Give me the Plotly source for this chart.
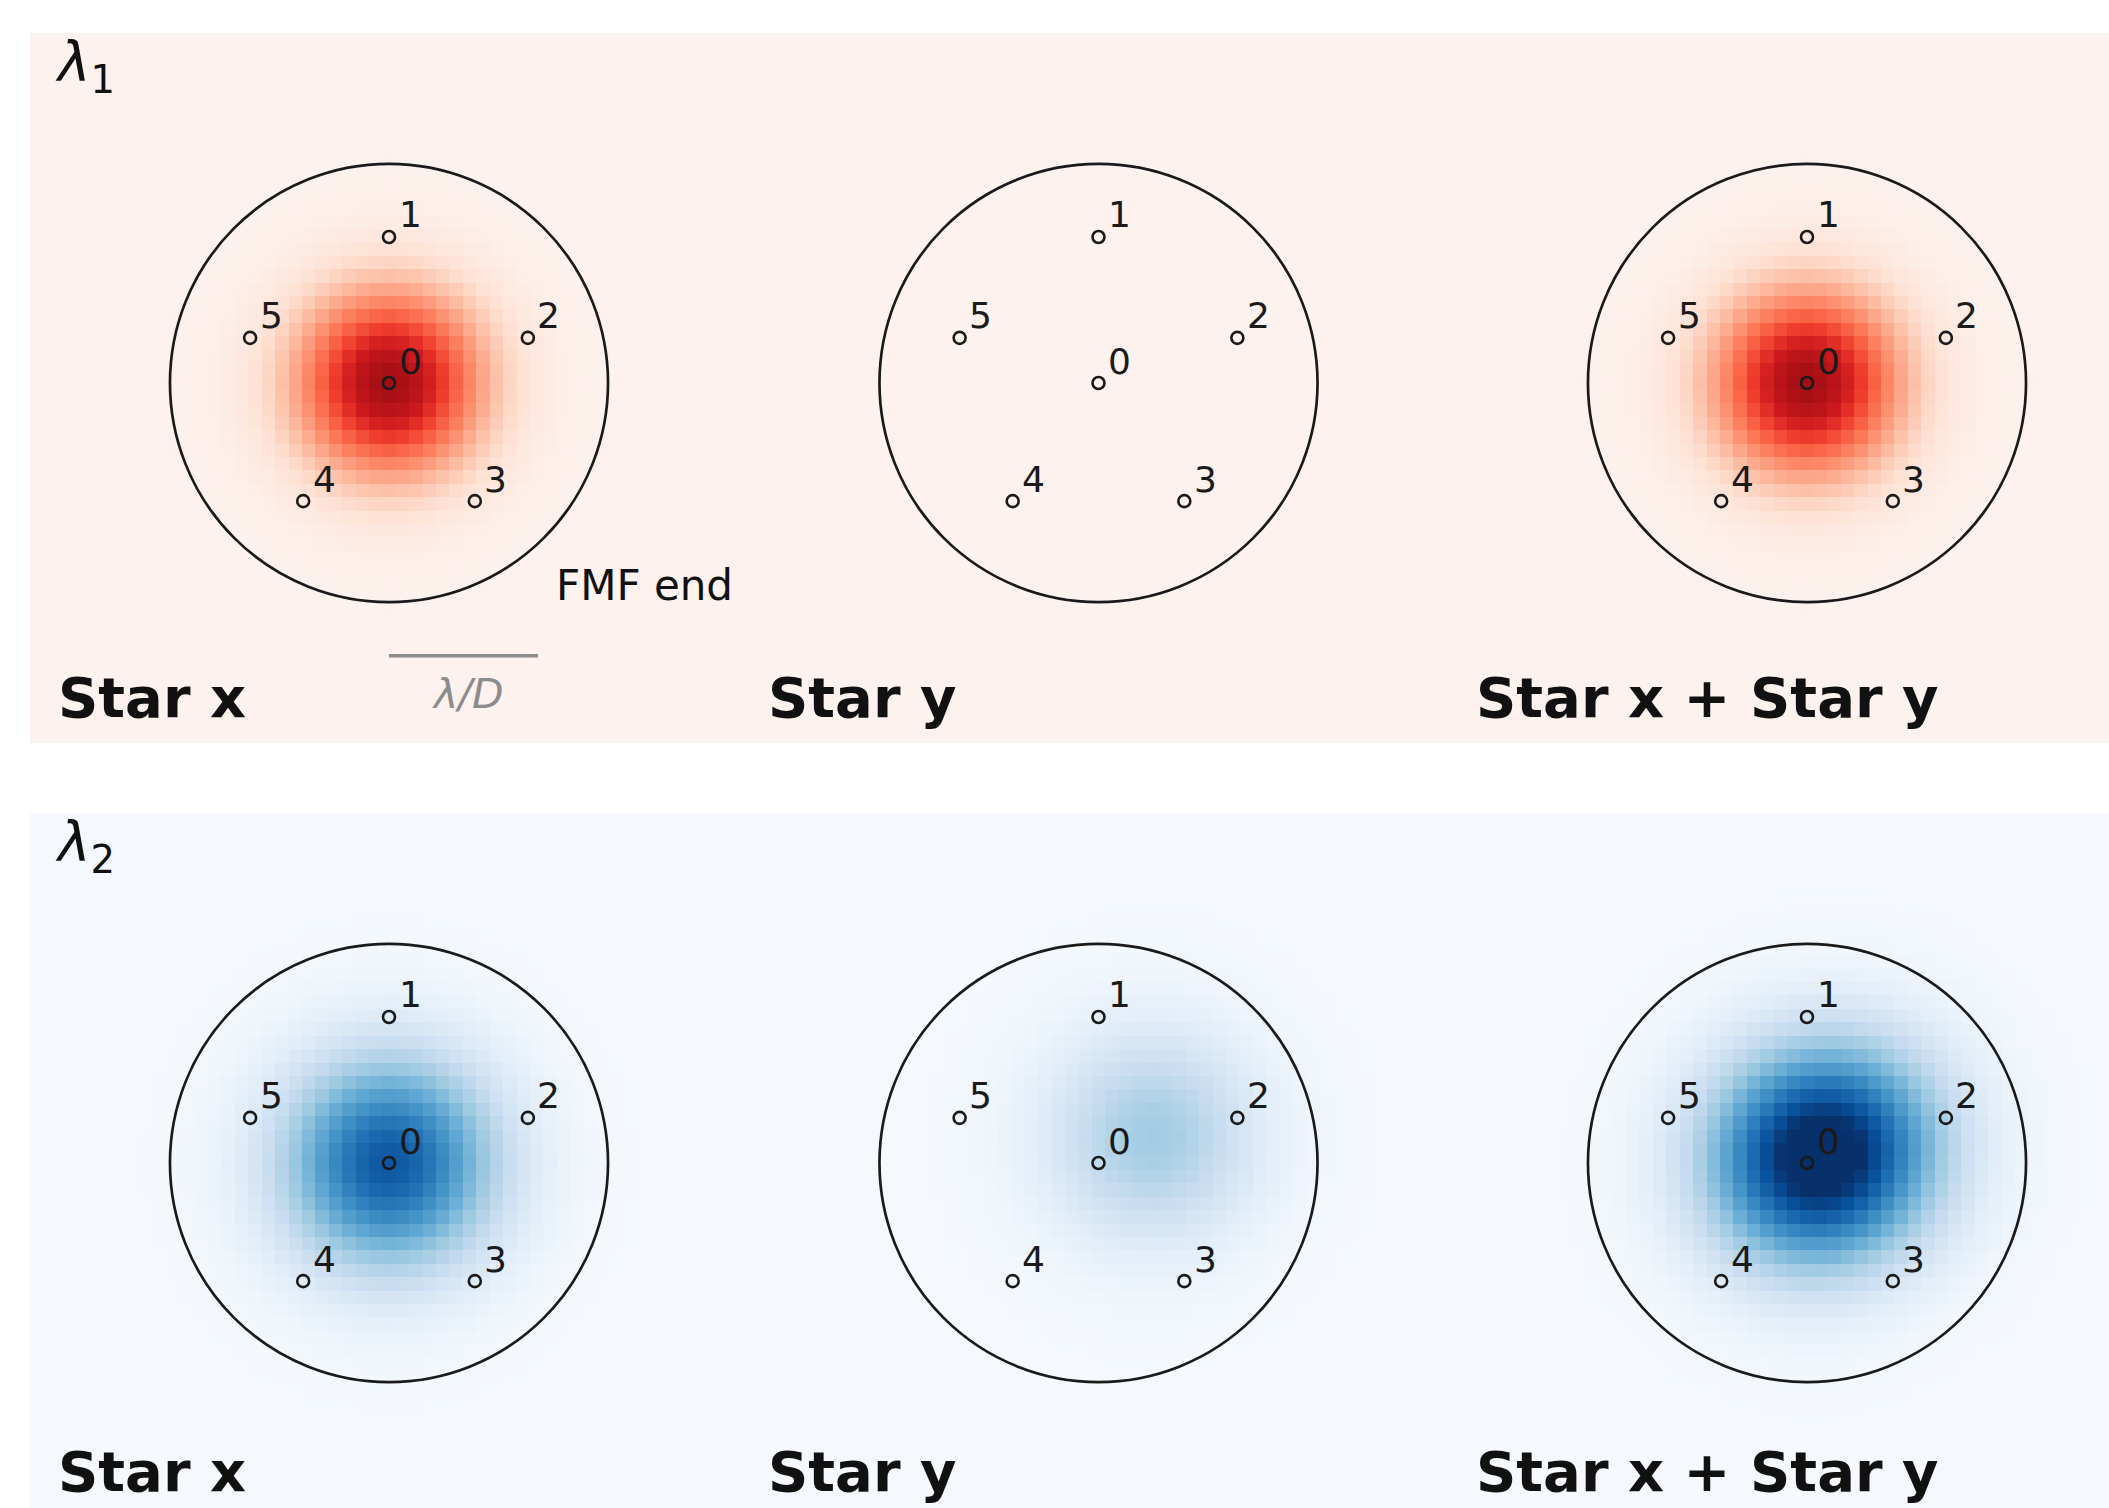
import numpy as np
import plotly.graph_objects as go

W, H = 2109, 1508
PX = 149.0  # pixels per lambda/D
FONT = "DejaVu Sans"

# ---- data -------------------------------------------------------------
panel_titles = ["Star x", "Star y", "Star x + Star y"]

# fibre cores on the few-mode-fibre end face (units of lambda/D)
fiber_ids = ["0", "1", "2", "3", "4", "5"]
fiber_x = [0.0, 0.0, 0.932, 0.576, -0.576, -0.932]
fiber_y = [0.0, 0.98, 0.303, -0.793, -0.793, 0.303]
fmf_radius = 1.47

# PSF pixel grid: cell size (lambda/D) and number of cells either side of centre
cell = 0.09
half_cells = 26

# one-sided PSF intensity profiles per cell offset from the star centre
profile_l1 = [1.0, 0.979, 0.920, 0.829, 0.717, 0.594, 0.472, 0.360, 0.264, 0.185,
              0.125, 0.082, 0.053, 0.033, 0.020, 0.012, 0.007, 0.004, 0.002, 0.001,
              0.0, 0.0, 0.0, 0.0, 0.0, 0.0, 0.0, 0.0, 0.0, 0.0, 0.0]
profile_l2 = [1.0, 0.984, 0.938, 0.866, 0.775, 0.671, 0.563, 0.458, 0.360, 0.275,
              0.203, 0.145, 0.101, 0.068, 0.044, 0.028, 0.017, 0.010, 0.006, 0.003,
              0.002, 0.001, 0.0, 0.0, 0.0, 0.0, 0.0, 0.0, 0.0, 0.0, 0.0]

# star peak (normalised) and centre offset in grid cells (x, y), per wavelength
star_x_peak = [0.88, 0.85]
star_x_cells = [(0, 0), (0, 0)]
star_y_peak = [0.0, 0.36]
star_y_cells = [(4, 2), (4, 2)]

# ---- styling ----------------------------------------------------------
row_bg = ["#fdf2ee", "#f5f9fd"]
reds = ["#fdf2ee", "#fee0d2", "#fcbba1", "#fc9272", "#fb6a4a", "#ef3b2c",
        "#cb181d", "#a50f15", "#67000d"]
blues = ["#f5f9fd", "#deebf7", "#c6dbef", "#9ecae1", "#6baed6", "#4292c6",
         "#2171b5", "#08519c", "#08306b"]
row_scales = [[[i / 8, c] for i, c in enumerate(reds)],
              [[i / 8, c] for i, c in enumerate(blues)]]

col_cx = [389.0, 1098.5, 1807.0]
row_cy = [383.0, 1163.0]
row_top = [33.0, 813.0]
row_bottom = [743.0, 1508.0]
title_dy = [314.0, 308.0]
HALF = 353.0

idx = np.arange(-half_cells, half_cells + 1)
grid = idx * cell


def star_image(profile, peak, centre):
    prof = np.asarray(profile)
    px = prof[np.abs(idx - centre[0])]
    py = prof[np.abs(idx - centre[1])]
    return peak * np.outer(py, px)


fig = go.Figure()
layout_axes = {}
shapes = []
annotations = []

# coloured row backgrounds with wavelength tags
for r in range(2):
    shapes.append(dict(type="rect", xref="paper", yref="paper", layer="below",
                       x0=30 / W, x1=1.0, y0=1 - row_bottom[r] / H, y1=1 - row_top[r] / H,
                       fillcolor=row_bg[r], line=dict(width=0)))
    annotations.append(dict(xref="paper", yref="paper", x=53 / W,
                            y=1 - (row_top[r] + 33) / H, xanchor="left", yanchor="middle",
                            text="<i>λ</i><sub>%d</sub>" % (r + 1), showarrow=False,
                            font=dict(family=FONT, size=55, color="#111111")))

n = 0
for r in range(2):
    profile = profile_l1 if r == 0 else profile_l2
    img_x = star_image(profile, star_x_peak[r], star_x_cells[r])
    img_y = star_image(profile, star_y_peak[r], star_y_cells[r])
    images = [img_x, img_y, img_x + img_y]
    for c in range(3):
        n += 1
        xa = "x" if n == 1 else "x%d" % n
        ya = "y" if n == 1 else "y%d" % n
        cx, cy = col_cx[c], row_cy[r]
        left, right = max(cx - HALF, 30), min(cx + HALF, W)
        top, bottom = max(cy - HALF, row_top[r]), min(cy + HALF, row_bottom[r])
        layout_axes["xaxis" if n == 1 else "xaxis%d" % n] = dict(
            domain=[left / W, right / W], range=[(left - cx) / PX, (right - cx) / PX],
            anchor=ya, visible=False, fixedrange=True)
        layout_axes["yaxis" if n == 1 else "yaxis%d" % n] = dict(
            domain=[1 - bottom / H, 1 - top / H], range=[(cy - bottom) / PX, (cy - top) / PX],
            anchor=xa, visible=False, fixedrange=True)

        fig.add_trace(go.Heatmap(x=grid, y=grid, z=images[c], zmin=0, zmax=1,
                                 colorscale=row_scales[r], showscale=False,
                                 xaxis=xa, yaxis=ya, hoverinfo="skip"))
        # fibre end face outline
        shapes.append(dict(type="circle", xref=xa, yref=ya,
                           x0=-fmf_radius, x1=fmf_radius, y0=-fmf_radius, y1=fmf_radius,
                           line=dict(color="#1a1a1a", width=2.7)))
        # fibre cores
        fig.add_trace(go.Scatter(x=fiber_x, y=fiber_y, mode="markers",
                                 marker=dict(symbol="circle-open", size=12, color="#1a1a1a",
                                             line=dict(width=2.6)),
                                 xaxis=xa, yaxis=ya, hoverinfo="skip"))
        for fid, fx, fy in zip(fiber_ids, fiber_x, fiber_y):
            annotations.append(dict(xref=xa, yref=ya, x=fx, y=fy, xshift=21, yshift=22,
                                    text=fid, showarrow=False,
                                    font=dict(family=FONT, size=36, color="#1a1a1a")))
        annotations.append(dict(xref="paper", yref="paper", x=(cx - 332) / W,
                                y=1 - (cy + title_dy[r]) / H, xanchor="left", yanchor="middle",
                                text="<b>%s</b>" % panel_titles[c], showarrow=False,
                                borderpad=0,
                                font=dict(family=FONT, size=56, color="#111111")))
        if n == 1:
            annotations.append(dict(xref=xa, yref=ya, x=1.11, y=-1.36, xanchor="left",
                                    yanchor="middle", text="FMF end", showarrow=False,
                                    font=dict(family=FONT, size=42, color="#111111")))
            shapes.append(dict(type="line", xref=xa, yref=ya, x0=0.0, x1=1.0,
                               y0=-1.83, y1=-1.83, line=dict(color="#8c8c8c", width=3.5)))
            annotations.append(dict(xref=xa, yref=ya, x=0.53, y=-2.09, text="<i>λ/D</i>",
                                    showarrow=False,
                                    font=dict(family=FONT, size=41, color="#8c8c8c")))

fig.update_layout(width=W, height=H, margin=dict(l=0, r=0, t=0, b=0),
                  paper_bgcolor="white", plot_bgcolor="rgba(0,0,0,0)",
                  showlegend=False, shapes=shapes, annotations=annotations,
                  **layout_axes)
fig.write_html("out.html", config={"displayModeBar": False})
